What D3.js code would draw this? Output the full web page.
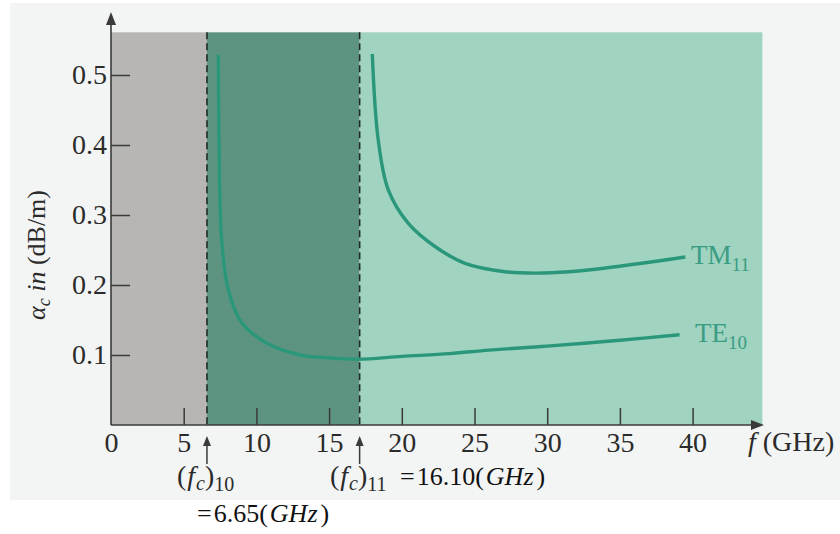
<!DOCTYPE html>
<html>
<head>
<meta charset="utf-8">
<script src="https://cdn.jsdelivr.net/npm/d3@7"></script>
<style>
  html, body { margin: 0; padding: 0; background: #ffffff; }
  svg { display: block; }
</style>
</head>
<body>
<svg id="chart" width="840" height="534"></svg>
<script>
// ---------------- data ----------------
const xTicks = [0, 5, 10, 15, 20, 25, 30, 35, 40];
const yTicks = [0.1, 0.2, 0.3, 0.4, 0.5];
const regionEdges = [0, 6.6, 17.1, 44.8];   // GHz: below TE10 cutoff, TE10 only, TE10+TM11
const plotTop = 0.561;                      // top of shaded area (dB/m)
const cutoffs = [6.6, 17.1];                // dashed cutoff lines (GHz)
const cutoffValues = ["6.65", "16.10"];     // annotated cutoff frequencies (GHz)

const te10F = [7.38, 7.43, 7.61, 8.07, 8.99, 10.7, 13.0, 15.0, 17.0, 20.0, 23.3, 26.0, 30.2, 35.0, 39.1];
const te10A = [0.529, 0.407, 0.264, 0.193, 0.146, 0.117, 0.100, 0.096, 0.094, 0.098, 0.102, 0.107, 0.113, 0.121, 0.129];

const tm11F = [17.97, 18.38, 19.07, 20.45, 22.28, 24.35, 27.1, 29.2, 31.5, 33.9, 36.5, 39.5];
const tm11A = [0.530, 0.407, 0.336, 0.288, 0.255, 0.231, 0.219, 0.217, 0.219, 0.224, 0.231, 0.240];

// ---------------- drawing ----------------
const SERIF = '"Liberation Serif", "Times New Roman", Times, "DejaVu Serif", serif';
const svg = d3.select("#chart");
const x = d3.scaleLinear().domain([0, 40]).range([111, 692.6]);
const y = d3.scaleLinear().domain([0, 0.5]).range([425, 75]);

// scanned-page background
svg.append("rect").attr("x", 10).attr("y", 3).attr("width", 830).attr("height", 497)
  .attr("fill", "#f3f5f4");

// shaded regions
const regionFill = ["#b7b6b5", "#5d9481", "#a0d3c0"];
svg.selectAll("rect.region")
  .data(d3.range(regionEdges.length - 1))
  .join("rect")
  .attr("class", "region")
  .attr("x", i => x(regionEdges[i]))
  .attr("y", y(plotTop))
  .attr("width", i => x(regionEdges[i + 1]) - x(regionEdges[i]))
  .attr("height", y(0) - y(plotTop))
  .attr("fill", i => regionFill[i]);

// dashed cutoff lines
svg.selectAll("line.cut")
  .data(cutoffs)
  .join("line")
  .attr("class", "cut")
  .attr("x1", d => x(d)).attr("x2", d => x(d))
  .attr("y1", y(plotTop)).attr("y2", y(0))
  .attr("stroke", "#1f2b27").attr("stroke-width", 1.6)
  .attr("stroke-dasharray", "7,4");

// axes (ticks pointing inward)
const axisColor = "#3a3a3a";
const gx = svg.append("g").attr("transform", `translate(0,${y(0)})`)
  .call(d3.axisBottom(x).tickValues(xTicks).tickFormat(d3.format("d"))
    .tickSizeInner(-17).tickSizeOuter(0).tickPadding(8));
const gy = svg.append("g").attr("transform", `translate(${x(0)},0)`)
  .call(d3.axisLeft(y).tickValues(yTicks).tickFormat(d3.format(".1f"))
    .tickSizeInner(-19).tickSizeOuter(0).tickPadding(4));
[gx, gy].forEach(g => {
  g.attr("font-family", SERIF).attr("font-size", 28);
  g.select(".domain").remove();
  g.selectAll(".tick line").attr("stroke", axisColor).attr("stroke-width", 1.5);
  g.selectAll(".tick text").attr("fill", "#2b2b2b").attr("font-family", SERIF).attr("font-size", 28);
});
gx.selectAll(".tick text").attr("dy", "0.68em");
gx.selectAll(".tick").filter(d => d === 0).select("line").remove();

// axis lines with arrowheads
svg.append("line").attr("x1", x(0)).attr("y1", y(0)).attr("x2", x(0)).attr("y2", 22)
  .attr("stroke", axisColor).attr("stroke-width", 1.6);
svg.append("path").attr("d", `M${x(0)},12 L${x(0) - 5},25 L${x(0) + 5},25 Z`).attr("fill", axisColor);
svg.append("line").attr("x1", x(0)).attr("y1", y(0)).attr("x2", 754).attr("y2", y(0))
  .attr("stroke", axisColor).attr("stroke-width", 1.6);
svg.append("path").attr("d", `M764,${y(0)} L751,${y(0) - 5} L751,${y(0) + 5} Z`).attr("fill", axisColor);

// curves
const line = d3.line().x(d => x(d[0])).y(d => y(d[1])).curve(d3.curveCatmullRom.alpha(0.5));
const curveColor = "#2a977b";
svg.append("path").datum(d3.zip(te10F, te10A)).attr("d", line)
  .attr("fill", "none").attr("stroke", curveColor).attr("stroke-width", 3.4);
svg.append("path").datum(d3.zip(tm11F, tm11A)).attr("d", line)
  .attr("fill", "none").attr("stroke", curveColor).attr("stroke-width", 3.4);

// helper for rich text
function txt(px, py, size, fill) {
  return svg.append("text").attr("x", px).attr("y", py)
    .attr("font-family", SERIF).attr("font-size", size).attr("fill", fill);
}

// curve labels
function modeLabel(px, py, main, sub) {
  const t = txt(px, py, 27, "#3a9c83");
  t.append("tspan").text(main);
  t.append("tspan").attr("dy", 7).attr("font-size", 19).text(sub);
}
modeLabel(691, 264, "TM", "11");
modeLabel(695, 342, "TE", "10");

// x-axis label
const xl = txt(748, 451, 28, "#2b2b2b");
xl.append("tspan").attr("font-style", "italic").text("f");
xl.append("tspan").text(" (GHz)");

// y-axis label
const yl = svg.append("text").attr("transform", "translate(45,255) rotate(-90)")
  .attr("text-anchor", "middle").attr("fill", "#2b2b2b")
  .attr("font-family", SERIF).attr("font-size", 26);
yl.append("tspan").attr("font-style", "italic").text("α");
yl.append("tspan").attr("font-style", "italic").attr("font-size", 18).attr("dy", 5).text("c");
yl.append("tspan").attr("font-style", "italic").attr("dy", -5).text(" in");
yl.append("tspan").text(" (dB/m)");

// cutoff arrows under the axis
cutoffs.forEach(c => {
  svg.append("line").attr("x1", x(c)).attr("x2", x(c)).attr("y1", 464).attr("y2", 444)
    .attr("stroke", "#3a3a3a").attr("stroke-width", 1.5);
  svg.append("path").attr("d", `M${x(c)},436 L${x(c) - 4},446 L${x(c) + 4},446 Z`).attr("fill", "#3a3a3a");
});

// cutoff annotations: (f_c)_mn
function fcLabel(px, py, sub) {
  const t = txt(px, py, 28, "#2a2a2a");
  t.append("tspan").text("(");
  t.append("tspan").attr("dx", 1).attr("font-style", "italic").text("f");
  t.append("tspan").attr("dx", 1).attr("font-style", "italic").attr("font-size", 20).attr("dy", 5).text("c");
  t.append("tspan").attr("dy", -5).text(")");
  t.append("tspan").attr("font-size", 20).attr("dy", 6).text(sub);
}
fcLabel(177, 485, "10");
fcLabel(330, 485, "11");

// "= value (GHz)"
function valueLabel(px, py, val) {
  const t = txt(px, py, 26, "#111");
  t.append("tspan").text("=");
  t.append("tspan").attr("dx", 2).text(val);
  t.append("tspan").text("(");
  t.append("tspan").attr("dx", 2).attr("font-style", "italic").text("GHz");
  t.append("tspan").attr("dx", 3).text(")");
}
valueLabel(400, 485, cutoffValues[1]);
valueLabel(197, 522, cutoffValues[0]);
</script>
</body>
</html>
